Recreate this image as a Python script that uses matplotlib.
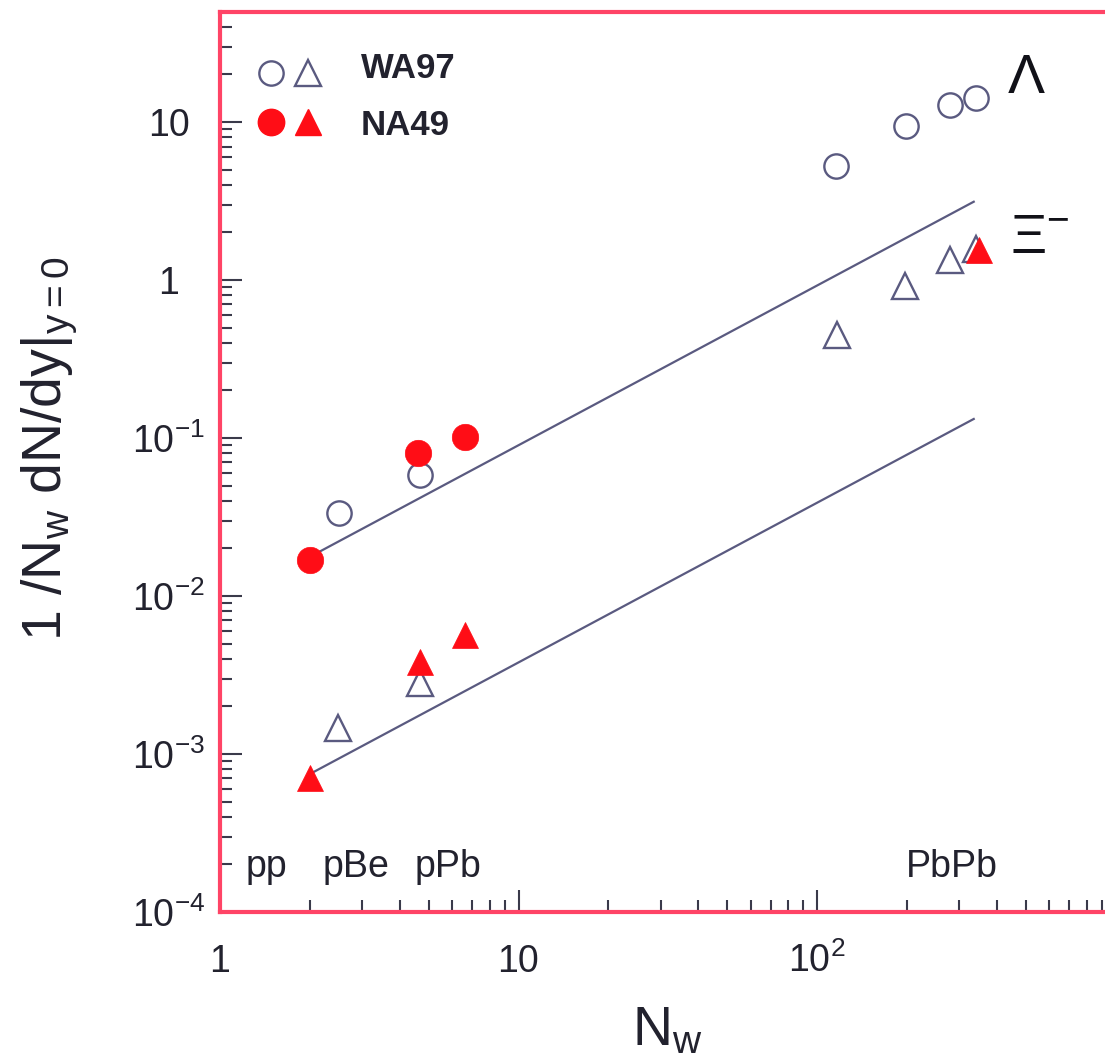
import matplotlib
matplotlib.use("Agg")
import matplotlib.pyplot as plt
import numpy as np
from matplotlib.ticker import LogLocator, NullFormatter
from matplotlib.transforms import blended_transform_factory

plt.rcParams["font.family"] = ["Liberation Sans", "DejaVu Sans"]
plt.rcParams["mathtext.fontset"] = "custom"
plt.rcParams["mathtext.rm"] = "Liberation Sans"
plt.rcParams["mathtext.it"] = "Liberation Sans"
plt.rcParams["mathtext.bf"] = "Liberation Sans:bold"
plt.rcParams["mathtext.default"] = "regular"

# Lambda, WA97 (open circles) and NA49 (filled)
lam_wa97_x = [2.50, 4.68, 115.8, 198.7, 279.0, 341.0]
lam_wa97_y = [0.0335, 0.0583, 5.27, 9.43, 12.8, 14.2]
lam_na49_x = [2.0, 4.61, 6.62]
lam_na49_y = [0.0169, 0.0804, 0.1015]

# Xi-, WA97 (open triangles) and NA49 (filled)
xi_wa97_x = [2.49, 4.68, 116.7, 197.0, 279.0, 341.0]
xi_wa97_y = [1.46e-3, 2.81e-3, 0.449, 0.916, 1.34, 1.58]
xi_na49_x = [2.0, 4.68, 6.62, 349.0]
xi_na49_y = [7.05e-4, 3.82e-3, 5.66e-3, 1.55]

# straight reference lines (end points)
fit_x = [2.0, 335.0]
lam_fit_y = [0.0177, 3.13]
xi_fit_y = [7.47e-4, 0.132]

x_ticks = [1, 10, 100]
x_tick_labels = ["1", "10", r"$10^{2}$"]
y_ticks = [1e-4, 1e-3, 1e-2, 1e-1, 1, 10]
y_tick_labels = [r"$10^{-4}$", r"$10^{-3}$", r"$10^{-2}$", r"$10^{-1}$", "1", "10"]

OPEN = "#5a5a80"
RED = "#ff0d16"
FRAME = "#ff4466"
INK = "#22222e"

fig = plt.figure(figsize=(11.05, 10.58), dpi=100)
ax = fig.add_axes([220 / 1105, 146 / 1058, 895.5 / 1105, 900.4 / 1058])
ax.set_xscale("log")
ax.set_yscale("log")
ax.set_xlim(1, 1000)
ax.set_ylim(1e-4, 50)

ax.plot(fit_x, lam_fit_y, color=OPEN, lw=1.6, zorder=2)
ax.plot(fit_x, xi_fit_y, color=OPEN, lw=1.6, zorder=2)

ax.plot(lam_wa97_x, lam_wa97_y, ls="none", marker="o", ms=17.5, mfc="white",
        mec=OPEN, mew=1.7, zorder=3)
ax.plot(xi_wa97_x, xi_wa97_y, ls="none", marker="^", ms=18.5, mfc="white",
        mec=OPEN, mew=1.7, zorder=3)
ax.plot(lam_na49_x, lam_na49_y, ls="none", marker="o", ms=19, mfc=RED,
        mec=RED, mew=0.5, zorder=4)
ax.plot(xi_na49_x, xi_na49_y, ls="none", marker="^", ms=19, mfc=RED,
        mec=RED, mew=0.5, zorder=4)

# legend drawn by hand in the upper left corner
ax.plot([0.057], [0.932], transform=ax.transAxes, marker="o", ms=17.5,
        mfc="white", mec=OPEN, mew=1.7, clip_on=False)
ax.plot([0.098], [0.932], transform=ax.transAxes, marker="^", ms=18.5,
        mfc="white", mec=OPEN, mew=1.7, clip_on=False)
ax.plot([0.057], [0.877], transform=ax.transAxes, marker="o", ms=19,
        mfc=RED, mec=RED, clip_on=False)
ax.plot([0.098], [0.877], transform=ax.transAxes, marker="^", ms=19,
        mfc=RED, mec=RED, clip_on=False)
ax.text(0.1575, 0.937, "WA97", transform=ax.transAxes, fontsize=25,
        fontweight="bold", color=INK, va="center", ha="left")
ax.text(0.1575, 0.874, "NA49", transform=ax.transAxes, fontsize=25,
        fontweight="bold", color=INK, va="center", ha="left")

# particle labels
ax.text(501, 15.3, "\u039b", fontsize=40, color="#111118", ha="center",
        va="baseline")
ax.text(443, 1.48, r"$\Xi^{-}$", fontsize=40, color="#111118", ha="left",
        va="baseline")

# collision systems along the bottom
tr = blended_transform_factory(ax.transData, ax.transAxes)
for xpos, lab in [(1.22, "pp"), (2.21, "pBe"), (4.47, "pPb"), (198.7, "PbPb")]:
    ax.text(xpos, 0.039, lab, transform=tr, fontsize=27, color=INK,
            ha="left", va="baseline")

# axes styling
for side in ["left", "top", "bottom"]:
    ax.spines[side].set_color(FRAME)
    ax.spines[side].set_linewidth(3)
ax.spines["right"].set_visible(False)

ax.set_xticks(x_ticks, labels=x_tick_labels)
ax.set_yticks(y_ticks, labels=y_tick_labels)
ax.xaxis.set_minor_locator(LogLocator(base=10, subs=np.arange(2, 10), numticks=50))
ax.yaxis.set_minor_locator(LogLocator(base=10, subs=np.arange(2, 10), numticks=50))
ax.xaxis.set_minor_formatter(NullFormatter())
ax.yaxis.set_minor_formatter(NullFormatter())

ax.tick_params(which="both", direction="in", color="#3a3a4a", width=1.5,
               top=False, right=False, labelcolor=INK, labelsize=27)
ax.tick_params(which="major", length=16)
ax.tick_params(which="minor", length=8.5)
ax.tick_params(axis="x", which="major", pad=43)
ax.tick_params(axis="y", which="major", pad=37)
for t in ax.get_xticklabels():
    t.set_verticalalignment("baseline")
for t in ax.get_yticklabels():
    t.set_horizontalalignment("center")

ax.set_xlabel(r"N$_{w}$", fontsize=40, color=INK, va="baseline")
ax.xaxis.set_label_coords(0.5, -0.148)
ax.set_ylabel(r"1 /N$_{w}$ dN/dy|$_{y=0}$", fontsize=40, color=INK)
ax.yaxis.set_label_coords(-0.156, 0.514)

fig.savefig("out.png", dpi=100)
